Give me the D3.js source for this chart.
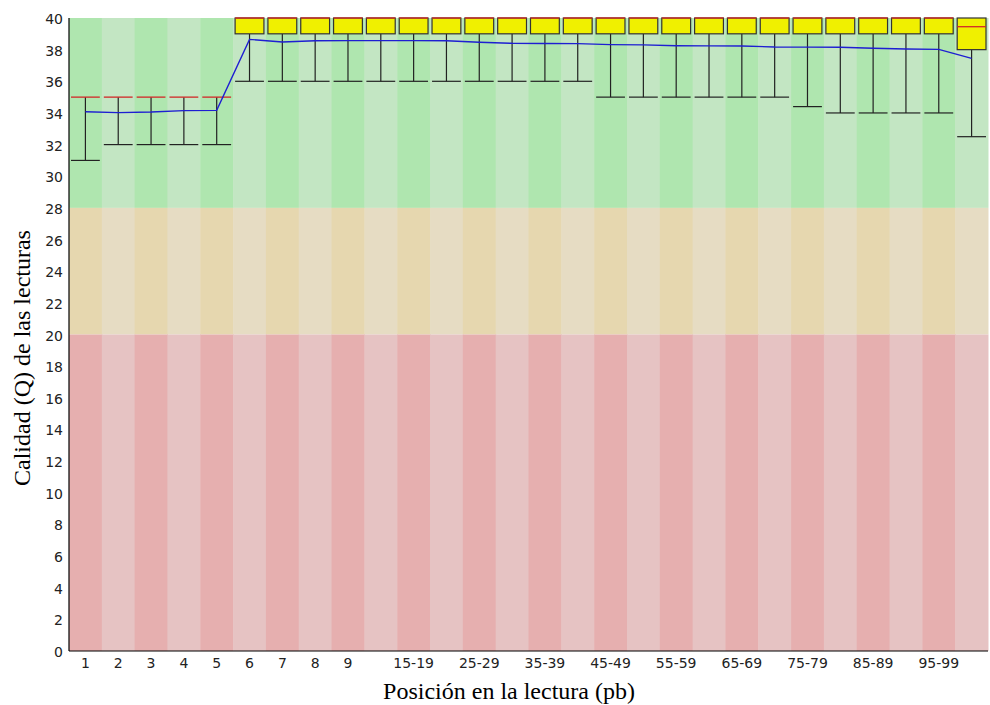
<!DOCTYPE html>
<html>
<head>
<meta charset="utf-8">
<script src="https://cdn.jsdelivr.net/npm/d3@7"></script>
<style>
  body { margin: 0; background: #fff; }
  svg { display: block; }
  .tick-label { font-family: "DejaVu Sans", sans-serif; font-size: 14px; fill: #222; }
  .axis-title { font-family: "Liberation Serif", "Times New Roman", serif; font-size: 24px; fill: #000; }
</style>
</head>
<body>
<svg width="990" height="705"></svg>
<script>
// **** data ****

var categories = ["1","2","3","4","5","6","7","8","9",
    "10-14","15-19","20-24","25-29","30-34","35-39","40-44","45-49","50-54",
    "55-59","60-64","65-69","70-74","75-79","80-84","85-89","90-94","95-99","100-101"];

var shownLabels = ["1","2","3","4","5","6","7","8","9",
    "15-19","25-29","35-39","45-49","55-59","65-69","75-79","85-89","95-99"];

var yTicks = [0,2,4,6,8,10,12,14,16,18,20,22,24,26,28,30,32,34,36,38,40];

// 10th percentile, quartiles, median, 90th percentile, mean
var lowerWhisker = [31,32,32,32,32,36,36,36,36,36,36,36,36,36,36,36,35,35,35,35,35,35,34.4,34,34,34,34,32.5];
var lowerQuartile = [35,35,35,35,35,39,39,39,39,39,39,39,39,39,39,39,39,39,39,39,39,39,39,39,39,39,39,38];
var medians = [35,35,35,35,35,40,40,40,40,40,40,40,40,40,40,40,40,40,40,40,40,40,40,40,40,40,40,39.45];
var upperQuartile = [35,35,35,35,35,40,40,40,40,40,40,40,40,40,40,40,40,40,40,40,40,40,40,40,40,40,40,40];
var upperWhisker = [35,35,35,35,35,40,40,40,40,40,40,40,40,40,40,40,40,40,40,40,40,40,40,40,40,40,40,40];
var means = [34.08,34.02,34.06,34.15,34.16,38.65,38.48,38.56,38.57,38.57,38.57,38.56,38.47,38.40,
    38.39,38.38,38.32,38.30,38.25,38.24,38.23,38.17,38.16,38.15,38.09,38.04,38.02,37.45];

// quality zones: [from, to, colour, alternate colour]
var zones = [
    [28, 40, "rgb(195,230,195)", "rgb(175,230,175)"],
    [20, 28, "rgb(230,220,195)", "rgb(230,215,175)"],
    [0, 20, "rgb(230,195,195)", "rgb(230,175,175)"]
];

// **** scales ****

var plotLeft = 69, plotRight = 988, plotTop = 18, plotBottom = 651;

var xScale = d3.scaleBand().domain(categories).range([plotLeft, plotRight]).padding(0);
var yScale = d3.scaleLinear().domain([0, 40]).range([plotBottom, plotTop]);

var svg = d3.select('svg');
var bw = xScale.bandwidth();

// background stripes
zones.forEach(function(z) {
    svg.append('g').selectAll('rect')
        .data(categories)
        .enter().append('rect')
        .attr('x', function(d) { return xScale(d); })
        .attr('width', bw + 0.5)
        .attr('y', yScale(z[1]))
        .attr('height', yScale(z[0]) - yScale(z[1]))
        .style('fill', function(d, i) { return i % 2 == 0 ? z[3] : z[2]; });
});

// whiskers and boxes
var rows = categories.map(function(c, i) {
    return { cat: c, lw: lowerWhisker[i], q1: lowerQuartile[i], med: medians[i],
             q3: upperQuartile[i], uw: upperWhisker[i], mean: means[i] };
});

var g = svg.append('g');
rows.forEach(function(d) {
    var x0 = xScale(d.cat) + 2, x1 = xScale(d.cat) + bw - 2, cx = xScale(d.cat) + bw / 2;

    // lower whisker
    g.append('line').attr('x1', cx).attr('x2', cx)
        .attr('y1', yScale(d.lw)).attr('y2', yScale(d.q1))
        .style('stroke', '#222').style('stroke-width', 1.2);
    g.append('line').attr('x1', x0).attr('x2', x1)
        .attr('y1', yScale(d.lw)).attr('y2', yScale(d.lw))
        .style('stroke', '#222').style('stroke-width', 1.2);
    // upper whisker
    if (d.uw > d.q3) {
        g.append('line').attr('x1', cx).attr('x2', cx)
            .attr('y1', yScale(d.uw)).attr('y2', yScale(d.q3))
            .style('stroke', '#222').style('stroke-width', 1.2);
        g.append('line').attr('x1', x0).attr('x2', x1)
            .attr('y1', yScale(d.uw)).attr('y2', yScale(d.uw))
            .style('stroke', '#222').style('stroke-width', 1.2);
    }
    // box
    if (d.q3 > d.q1) {
        g.append('rect').attr('x', x0).attr('width', x1 - x0)
            .attr('y', yScale(d.q3)).attr('height', yScale(d.q1) - yScale(d.q3))
            .style('fill', 'rgb(240,240,0)').style('stroke', '#333').style('stroke-width', 1.2);
    }
    // median
    g.append('line').attr('x1', x0).attr('x2', x1)
        .attr('y1', yScale(d.med)).attr('y2', yScale(d.med))
        .style('stroke', 'rgb(210,40,40)').style('stroke-width', 1.3);
});

// mean line through column centres
var meanLine = d3.line()
    .x(function(d) { return xScale(d.cat) + bw / 2; })
    .y(function(d) { return yScale(d.mean); });

svg.append('path').datum(rows)
    .attr('d', meanLine)
    .style('fill', 'none')
    .style('stroke', 'rgb(30,30,210)')
    .style('stroke-width', 1.4);

// axes lines
svg.append('line').attr('x1', plotLeft).attr('x2', plotLeft).attr('y1', plotTop).attr('y2', plotBottom)
    .style('stroke', '#000').style('stroke-width', 1.2);
svg.append('line').attr('x1', plotLeft).attr('x2', plotRight).attr('y1', plotBottom).attr('y2', plotBottom)
    .style('stroke', '#000').style('stroke-width', 1.2);

// tick labels
svg.append('g').selectAll('text')
    .data(yTicks).enter().append('text')
    .attr('class', 'tick-label')
    .attr('text-anchor', 'end')
    .attr('x', 63)
    .attr('y', function(d) { return yScale(d) + 6; })
    .text(function(d) { return d; });

svg.append('g').selectAll('text')
    .data(shownLabels).enter().append('text')
    .attr('class', 'tick-label')
    .attr('text-anchor', 'middle')
    .attr('x', function(d) { return xScale(d) + bw / 2; })
    .attr('y', 668)
    .text(function(d) { return d; });

// axis titles
svg.append('text')
    .attr('class', 'axis-title')
    .attr('text-anchor', 'middle')
    .attr('transform', 'translate(509,699)')
    .text('Posición en la lectura (pb)');

svg.append('text')
    .attr('class', 'axis-title')
    .attr('text-anchor', 'middle')
    .attr('transform', 'translate(30,358) rotate(-90)')
    .text('Calidad (Q) de las lecturas');
</script>
</body>
</html>
